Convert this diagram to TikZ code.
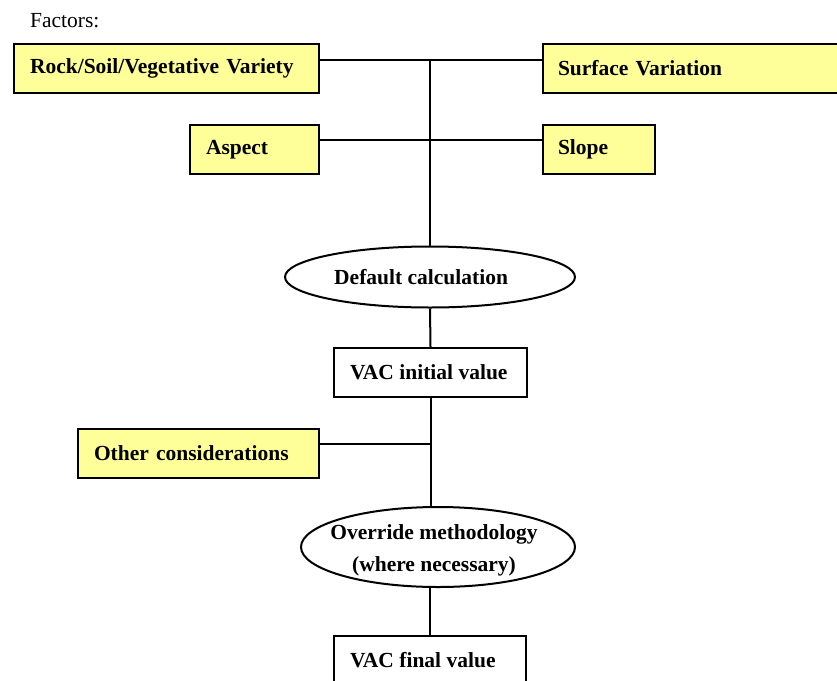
\documentclass[tikz,border=0pt]{standalone}
\usepackage{fontspec}
\setmainfont{Liberation Serif}
\usetikzlibrary{shapes.geometric}
\definecolor{paleyellow}{HTML}{FFFF99}
\tikzset{
  txt/.style={font=\fontsize{21.5}{32}\selectfont\bfseries},
  factorbox/.style={draw=black, line width=2pt, fill=paleyellow, rectangle, anchor=north west,
    inner xsep=16pt, inner ysep=0pt, align=left, minimum height=49pt, txt},
  valuebox/.style={draw=black, line width=2pt, fill=white, rectangle, anchor=north west,
    inner sep=0pt, minimum height=49pt},
  oval/.style={draw=black, line width=2pt, ellipse, inner sep=0pt},
  shapelabel/.style={inner sep=0pt, align=center, txt},
  conn/.style={draw=black, line width=2pt}
}
\begin{document}
\begin{tikzpicture}[x=1pt, y=-1pt]
\useasboundingbox (0,0) rectangle (837,680);
\clip (0,0) rectangle (837,680);
\node[anchor=west, inner sep=0pt, font=\fontsize{21.5}{25}\selectfont] (fac) at (30,21) {Factors:};
\node[factorbox, text width=273pt] (rock) at (13,43) {Rock/Soil/Vegetative Variety};
\node[factorbox, text width=275pt, inner xsep=15pt] (surf) at (542,43) {Surface Variation};
\node[factorbox, text width=97pt] (aspect) at (189,124) {Aspect};
\node[factorbox, text width=82pt, inner xsep=15pt] (slope) at (542,124) {Slope};
\node[oval, minimum width=290pt, minimum height=61pt] (def) at (430,277) {};
\node[shapelabel, anchor=west] (deftext) at (334,277) {Default calculation};
\node[valuebox, minimum width=193pt] (init) at (333,347) {};
\node[shapelabel, anchor=west] (inittext) at (350,372) {VAC initial value};
\node[factorbox, text width=209pt] (other) at (77,428) {Other considerations};
\node[oval, minimum width=274pt, minimum height=80pt] (ovr) at (438,547) {};
\node[shapelabel] (ovrtext) at (434,550) {Override methodology\\(where necessary)};
\node[valuebox, minimum width=192pt] (final) at (333,635) {};
\node[shapelabel, anchor=west] (finaltext) at (350,660) {VAC final value};
\coordinate (j1) at (430,60);
\coordinate (j2) at (430,140);
\coordinate (j3) at (430,444);
\draw[conn] (rock.east |- j1) -- (surf.west |- j1);
\draw[conn] (aspect.east |- j2) -- (slope.west |- j2);
\draw[conn] (j1) -- (def.north);
\draw[conn] (def.south) -- (init.north);
\draw[conn] (init.south) -- (init.south |- ovr.north);
\draw[conn] (other.east |- j3) -- (j3);
\draw[conn] (final.north |- ovr.south) -- (final.north);
\end{tikzpicture}
\end{document}
